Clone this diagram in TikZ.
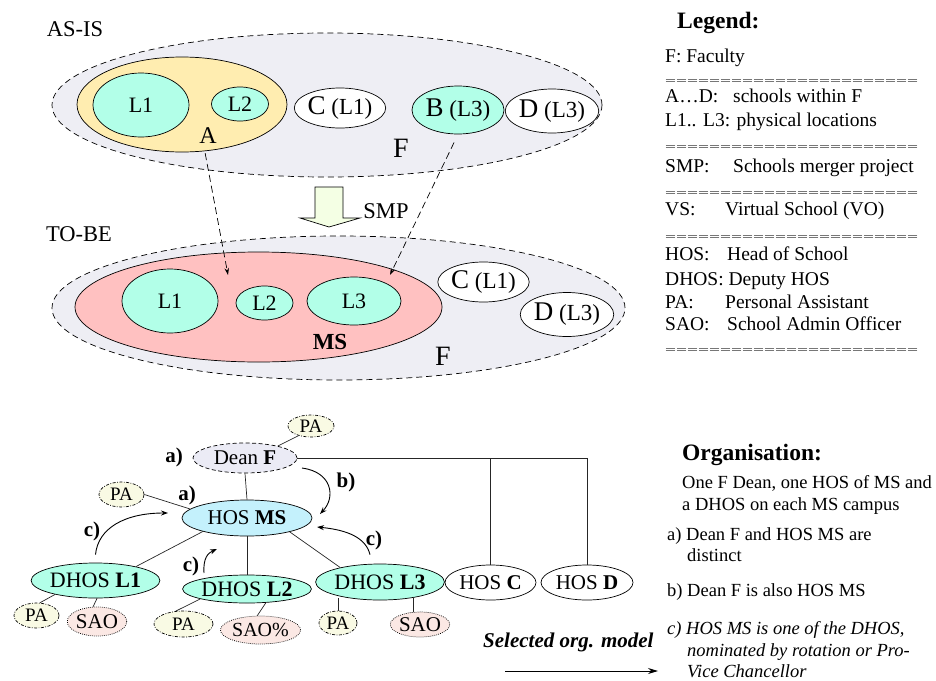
\documentclass[tikz,border=0pt]{standalone}
\usepackage{fontspec}
\setmainfont{Liberation Serif}
\usetikzlibrary{shapes.geometric,arrows.meta}
\newcommand{\fsz}[1]{\fontsize{#1}{#1}\selectfont}
\newcommand{\eqrow}{\scalebox{1}[0.55]{=======================}}
\definecolor{fgray}{RGB}{238,238,244}
\definecolor{ayellow}{RGB}{255,237,176}
\definecolor{aqua}{RGB}{178,255,232}
\definecolor{mspink}{RGB}{255,193,193}
\definecolor{hoscyan}{RGB}{196,241,252}
\definecolor{deangray}{RGB}{235,235,245}
\definecolor{pacream}{RGB}{249,250,228}
\definecolor{saopink}{RGB}{251,232,228}
\definecolor{smpgreen}{RGB}{244,255,228}
\begin{document}
\begin{tikzpicture}[x=1pt,y=-1pt,
  sz/.style 2 args={minimum width=#1pt,minimum height=#2pt},
  ell/.style={ellipse,draw,inner sep=0pt,line width=0.7pt},
  outerell/.style={ellipse,draw,inner sep=0pt,line width=0.7pt,fill=fgray,dash pattern=on 6pt off 4pt},
  loc/.style={ell,fill=aqua,font=\fsz{22}},
  whiteell/.style={ell,fill=white},
  txt/.style={inner sep=0pt},
  pa/.style={ell,fill=pacream,dash pattern=on 3pt off 1.5pt on 0.8pt off 1.5pt,font=\fsz{19}},
  sao/.style={ell,fill=saopink,dash pattern=on 0.8pt off 1.2pt,font=\fsz{21}},
  org/.style={ell,font=\fsz{21}},
  conn/.style={line width=0.7pt,black!85},
  carrow/.style={line width=0.9pt,-{Stealth[length=7pt,width=5pt]}},
  dasharrow/.style={line width=0.7pt,dash pattern=on 7pt off 4pt,-{Stealth[length=7pt,width=4.5pt]}},
  lg/.style={txt,font=\fsz{19.5},anchor=base west},
  orgtxt/.style={txt,font=\fsz{18.5},anchor=base west},
  blbl/.style={txt,font=\fsz{21}\bfseries},
]
\useasboundingbox (0,0) rectangle (936,680);

% ---------------- AS-IS ----------------
\node[txt,font=\fsz{22.5}] (asis) at (75,29) {AS-IS};
\node[outerell,sz={550}{144}] (F1) at (327,105) {};
\node[ell,fill=ayellow,sz={210}{95}] (A) at (182,104.5) {};
\node[loc,sz={96}{64}] (L1a) at (141,105) {L1};
\node[loc,sz={57}{34}] (L2a) at (240,104) {L2};
\node[txt,font=\fsz{24}] (Alab) at (208,136) {A};
\node[whiteell,sz={80}{40}] (Ca) at (340,108) {{\fsz{27}C}\fsz{23} (L1)};
\node[loc,sz={92}{48}] (Ba) at (458,110) {{\fsz{27}B}\fsz{23} (L3)};
\node[whiteell,sz={80}{44}] (Da) at (552,111) {{\fsz{27}D}\fsz{23} (L3)};
\node[txt,font=\fsz{28}] (F1lab) at (401,148) {F};

% ---------------- SMP arrow ----------------
\draw[fill=smpgreen,line width=0.7pt] (315,187) -- (343,187) -- (343,218) -- (360,218) -- (329,227) -- (300,218) -- (315,218) -- cycle;
\node[txt,font=\fsz{22.5}] (smp) at (386,211) {SMP};

% ---------------- TO-BE ----------------
\node[txt,font=\fsz{22.5}] (tobe) at (79,234) {TO-BE};
\node[outerell,sz={573}{144}] (F2) at (338.5,308) {};
\node[ell,fill=mspink,sz={367}{110}] (MS) at (258.5,307) {};
\node[loc,sz={96}{64}] (L1b) at (170,301) {L1};
\node[loc,sz={57}{34}] (L2b) at (264.5,303) {L2};
\node[loc,sz={94}{48}] (L3b) at (354,301) {L3};
\node[txt,font=\fsz{23}\bfseries] (MSlab) at (330,342) {MS};
\node[whiteell,sz={81}{40}] (Cb) at (483.5,282) {{\fsz{27}C}\fsz{23} (L1)};
\node[whiteell,sz={80}{44}] (Db) at (567,314.5) {{\fsz{27}D}\fsz{23} (L3)};
\node[txt,font=\fsz{28}] (F2lab) at (443,356) {F};

% dashed merge arrows
\coordinate (aEnd) at (228,275);
\coordinate (bEnd) at (390,275);
\draw[dasharrow,shorten <=2pt] (A.-64) -- (aEnd);
\draw[dasharrow,shorten <=9pt] (Ba.south) -- (bEnd);

% ---------------- Legend ----------------
\node[txt,font=\fsz{23.5}\bfseries,anchor=base west] (legT) at (677,28) {Legend:};
\node[lg] (lg1) at (665,62) {F: Faculty};
\node[lg] (eq1) at (665,84) {\eqrow};
\node[lg] (lg2a) at (665,102) {A\ldots D:};
\node[lg] (lg2b) at (733,102) {schools within F};
\node[lg] (lg3) at (665,126) {L1.. L3: physical locations};
\node[lg] (eq2) at (665,150) {\eqrow};
\node[lg] (lg4a) at (665,172) {SMP:};
\node[lg] (lg4b) at (733,172) {Schools merger project};
\node[lg] (eq3) at (665,196) {\eqrow};
\node[lg] (lg5a) at (665,215) {VS:};
\node[lg] (lg5b) at (725,215) {Virtual School (VO)};
\node[lg] (eq4) at (665,240) {\eqrow};
\node[lg] (lg6a) at (665,260) {HOS:};
\node[lg] (lg6b) at (727,260) {Head of School};
\node[lg] (lg7) at (665,285) {DHOS: Deputy HOS};
\node[lg] (lg8a) at (665,308) {PA:};
\node[lg] (lg8b) at (725,308) {Personal Assistant};
\node[lg] (lg9a) at (665,330) {SAO:};
\node[lg] (lg9b) at (727,330) {School Admin Officer};
\node[lg] (eq5) at (665,353) {\eqrow};

% ---------------- Org chart ----------------
\node[pa,sz={46}{22}] (DeanPA) at (311,426) {PA};
\node[org,fill=deangray,dash pattern=on 4pt off 2.5pt,sz={104}{30}] (Dean) at (245,458) {Dean \textbf{F}};
\node[blbl] (aLab1) at (174,457) {a)};
\node[pa,sz={45}{25}] (HOSPA) at (121.5,494.5) {PA};
\node[org,fill=hoscyan,sz={130}{36}] (HOSMS) at (247,518) {HOS \textbf{MS}};
\node[blbl] (aLab2) at (187,495) {a)};
\node[org,fill=aqua,font=\fsz{22},sz={113}{35}] (DHOS1) at (95.5,580.5) {DHOS \textbf{L1}};
\node[blbl] (cLab1) at (92,531) {c)};
\node[pa,sz={45}{25}] (PA1) at (36.5,615.5) {PA};
\node[sao,sz={56}{29}] (SAO1) at (97,621.5) {SAO};
\node[org,fill=aqua,font=\fsz{22},sz={116}{28}] (DHOS2) at (247,589) {DHOS \textbf{L2}};
\node[blbl] (cLab2) at (191,566) {c)};
\node[pa,sz={59}{26}] (PA2) at (183.5,624) {PA};
\node[sao,font=\fsz{20},sz={77}{28}] (SAO2) at (260.5,630) {SAO\%};
\node[org,fill=aqua,font=\fsz{22},sz={114}{36}] (DHOS3) at (380,582) {DHOS \textbf{L3}};
\node[blbl] (cLab3) at (374,540) {c)};
\node[pa,sz={38}{24}] (PA3) at (338,623) {PA};
\node[sao,sz={56}{25}] (SAO3) at (420,624.5) {SAO};
\node[org,fill=white,sz={91}{35}] (HOSC) at (490.5,582.5) {HOS \textbf{C}};
\node[org,fill=white,sz={92}{35}] (HOSD) at (587,582.5) {HOS \textbf{D}};
\node[blbl] (bLab) at (346,482) {b)};

% connectors
\draw[conn] (Dean.20) -- (DeanPA.218);
\draw[conn] (Dean.south) -- (HOSMS.north);
\draw[conn] (HOSPA.east) -- (HOSMS.171);
\draw[conn] (HOSMS.197) -- (DHOS1.19);
\draw[conn] (HOSMS.south) -- (DHOS2.north);
\draw[conn] (HOSMS.-18) -- (DHOS3.160);
\draw[conn] (Dean.east) -| (HOSC.north);
\draw[conn] (Dean.east) -| (HOSD.north);
\draw[conn] (DHOS1.199) -- (PA1.75);
\draw[conn] (DHOS1.-85) -- (SAO1.105);
\draw[conn] (DHOS2.192) -- (PA2.121);
\draw[conn] (DHOS2.-36) -- (SAO2.103);
\draw[conn] (PA3.north) -- (PA3.north |- DHOS3.205);
\draw[conn] (SAO3.119) -- (SAO3.119 |- DHOS3.-27);

% curved arrows
\coordinate (c1tip) at ([xshift=-79pt,yshift=5pt]HOSMS.center);
\coordinate (c2tip) at ([xshift=-30pt,yshift=-31pt]HOSMS.center);
\coordinate (c3tip) at ([xshift=70pt,yshift=-9pt]HOSMS.center);
\coordinate (btip) at ([xshift=73pt,yshift=4pt]HOSMS.center);
\draw[carrow] ([yshift=8pt]DHOS1.north) .. controls (98,528) and (125,513) .. (c1tip);
\draw[carrow] ([xshift=-43pt,yshift=16pt]DHOS2.center) .. controls (203,558) and (208,553) .. (c2tip);
\draw[carrow] ([xshift=-10pt,yshift=9pt]DHOS3.north) .. controls (366,538) and (348,530) .. (c3tip);
\draw[carrow] ([xshift=57pt,yshift=-10pt]Dean.center) .. controls (332,472) and (336,497) .. (btip);

% selected model
\node[txt,font=\fsz{21}\bfseries\itshape,anchor=base west] (selLab) at (483,647) {Selected org. model};
\coordinate (selA) at (505,671);
\coordinate (selB) at (658,671);
\draw[line width=0.9pt,-{Stealth[length=10pt,width=6pt]}] (selA) -- (selB);

% ---------------- Organisation ----------------
\node[txt,font=\fsz{23.5}\bfseries,anchor=base west] (orgT) at (682,460) {Organisation:};
\node[orgtxt] (o1) at (682,488) {One F Dean, one HOS of MS and};
\node[orgtxt] (o2) at (682,510) {a DHOS on each MS campus};
\node[orgtxt] (o3) at (667,540) {a) Dean F and HOS MS are};
\node[orgtxt] (o4) at (687,561) {distinct};
\node[orgtxt] (o5) at (667,596) {b) Dean F is also HOS MS};
\node[orgtxt,font=\fsz{18.5}\itshape] (o6) at (667,634) {c) HOS MS is one of the DHOS,};
\node[orgtxt,font=\fsz{18.5}\itshape] (o7) at (687,656) {nominated by rotation or Pro-};
\node[orgtxt,font=\fsz{18.5}\itshape] (o8) at (687,677) {Vice Chancellor};
\end{tikzpicture}
\end{document}
